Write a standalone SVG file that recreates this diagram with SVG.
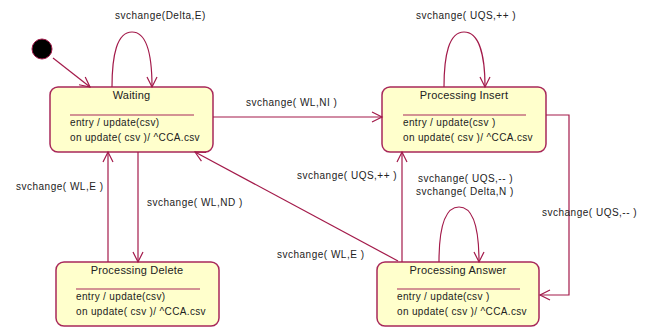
<svg xmlns="http://www.w3.org/2000/svg" width="646" height="327" viewBox="0 0 646 327">
<style>
.box{fill:#ffffcc;stroke:#a8285a;stroke-width:1.5}
.sep{stroke:#a8285a;stroke-width:1.2}
.edge{fill:none;stroke:#a31a4a;stroke-width:1.2}
text{font-family:"Liberation Sans",Arial,sans-serif;fill:#222}
.title{font-size:11px;letter-spacing:0.2px;text-anchor:middle}
.body{font-size:10px;letter-spacing:0.35px}
.lbl{font-size:10px;letter-spacing:0.5px}
</style>
<defs>
<marker id="arr" markerUnits="userSpaceOnUse" markerWidth="14" markerHeight="14" refX="11" refY="6" orient="auto">
<path d="M1,1 L11,6 L1,11" fill="none" stroke="#a31a4a" stroke-width="1.2"/>
</marker>
</defs>
<rect width="646" height="327" fill="#ffffff"/>
<g id="initial">
<circle cx="42" cy="49" r="10" fill="#000" stroke="#a31a4a" stroke-width="1"/>
</g>
<g id="waiting">
<rect class="box" x="50" y="87" width="163" height="65" rx="8"/>
<text class="title" x="131.5" y="99">Waiting</text>
<line class="sep" x1="70" y1="115" x2="194" y2="115"/>
<text class="body" x="70" y="126">entry / update(csv)</text>
<text class="body" x="70" y="141">on update( csv )/ ^CCA.csv</text>
</g>
<g id="processing-insert">
<rect class="box" x="382" y="87" width="164" height="65" rx="8"/>
<text class="title" x="464" y="99">Processing Insert</text>
<line class="sep" x1="403" y1="115" x2="526" y2="115"/>
<text class="body" x="403" y="126">entry / update(csv )</text>
<text class="body" x="403" y="141">on update( csv  )/ ^CCA.csv</text>
</g>
<g id="processing-delete">
<rect class="box" x="56" y="262" width="163" height="64" rx="8"/>
<text class="title" x="137" y="274">Processing Delete</text>
<line class="sep" x1="76" y1="289" x2="200" y2="289"/>
<text class="body" x="76" y="300">entry / update(csv)</text>
<text class="body" x="76" y="315">on update( csv )/ ^CCA.csv</text>
</g>
<g id="processing-answer">
<rect class="box" x="377" y="262" width="162" height="64" rx="8"/>
<text class="title" x="458" y="274">Processing Answer</text>
<line class="sep" x1="397" y1="289" x2="520" y2="289"/>
<text class="body" x="397" y="300">entry / update(csv )</text>
<text class="body" x="397" y="315">on update( csv  )/ ^CCA.csv</text>
</g>
<g id="connectors">
<line class="edge" x1="53" y1="58" x2="90" y2="87" marker-end="url(#arr)"/>
<path class="edge" d="M112,87 C112,55 117,32 132,32 C147,32 152,55 152,87" marker-end="url(#arr)"/>
<path class="edge" d="M444,87 C444,55 449,32 464,32 C479,32 485,55 485,87" marker-end="url(#arr)"/>
<line class="edge" x1="213" y1="117" x2="382" y2="117" marker-end="url(#arr)"/>
<polyline class="edge" points="546,115 569,115 569,295 540,295" marker-end="url(#arr)"/>
<path class="edge" d="M439,262 C439,230 444,207 459,207 C474,207 479,230 479,262" marker-end="url(#arr)"/>
<line class="edge" x1="402" y1="262" x2="402" y2="152" marker-end="url(#arr)"/>
<line class="edge" x1="398" y1="261" x2="195" y2="152" marker-end="url(#arr)"/>
<line class="edge" x1="108" y1="262" x2="108" y2="152" marker-end="url(#arr)"/>
<line class="edge" x1="138" y1="152" x2="138" y2="262" marker-end="url(#arr)"/>
<text class="lbl" x="115" y="19">svchange(Delta,E)</text>
<text class="lbl" x="416" y="19">svchange( UQS,++ )</text>
<text class="lbl" x="246" y="106">svchange( WL,NI )</text>
<text class="lbl" x="297" y="179">svchange( UQS,++ )</text>
<text class="lbl" x="418" y="182">svchange( UQS,-- )</text>
<text class="lbl" x="416" y="195">svchange( Delta,N )</text>
<text class="lbl" x="542" y="216">svchange( UQS,-- )</text>
<text class="lbl" x="277" y="258">svchange( WL,E )</text>
<text class="lbl" x="16" y="190">svchange( WL,E )</text>
<text class="lbl" x="147" y="206">svchange( WL,ND )</text>
</g>
</svg>
